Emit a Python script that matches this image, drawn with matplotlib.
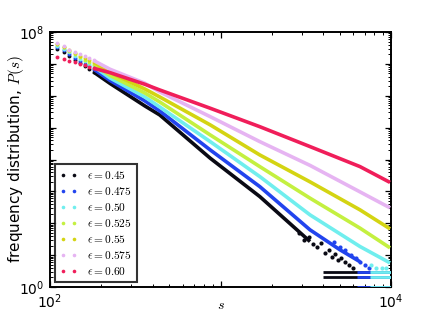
import matplotlib
matplotlib.use("Agg")
import matplotlib.pyplot as plt
from matplotlib.lines import Line2D
from matplotlib.ticker import LogLocator, FixedLocator, FixedFormatter, NullFormatter

plt.rcParams['mathtext.fontset'] = 'cm'
plt.rcParams['font.family'] = ['DejaVu Sans']

# ---------------- data ----------------
s_vals = [110, 120, 130, 140, 150, 160, 170, 180, 225, 360, 440, 870, 1700, 3350, 6580, 9870]

labels = [r'$\epsilon=0.45$', r'$\epsilon=0.475$', r'$\epsilon=0.50$', r'$\epsilon=0.525$',
          r'$\epsilon=0.55$', r'$\epsilon=0.575$', r'$\epsilon=0.60$']
colors = ['#0a0a14', '#2244ee', '#70eeee', '#c4f040', '#d4d412', '#e6b4f2', '#f01e5a']

P_045 = [2.93e7, 2.28e7, 1.77e7, 1.33e7, 1.03e7, 8.29e6, 6.67e6, 5.57e6, 2.43e6, 4.79e5, 2.50e5, 1.10e4, 687, 26.7]
s_045 = s_vals[:14]
P_0475 = [3.31e7, 2.63e7, 2.04e7, 1.53e7, 1.23e7, 1.01e7, 8.29e6, 6.92e6, 3.02e6, 6.88e5, 3.34e5, 2.00e4, 1.41e3, 62.1, 14.7, 6.2]
s_0475 = s_vals[:14] + [5020, 6580]
P_050 = [3.64e7, 2.93e7, 2.28e7, 1.77e7, 1.43e7, 1.19e7, 9.93e6, 8.29e6, 3.61e6, 9.16e5, 4.45e5, 3.64e4, 2.91e3, 183, 18.6, 5.7]
P_0525 = [4.06e7, 3.27e7, 2.54e7, 1.97e7, 1.65e7, 1.37e7, 1.15e7, 9.9e6, 4.33e6, 1.22e6, 6.40e5, 5.90e4, 5.98e3, 612, 70.2, 16.9]
P_055 = [4.21e7, 3.39e7, 2.73e7, 2.20e7, 1.83e7, 1.55e7, 1.32e7, 1.15e7, 5.37e6, 1.63e6, 9.17e5, 1.22e5, 1.39e4, 1.99e3, 263, 66.7]
P_0575 = [4.36e7, 3.51e7, 2.82e7, 2.36e7, 1.97e7, 1.71e7, 1.48e7, 1.28e7, 6.78e6, 2.47e6, 1.32e6, 2.21e5, 3.64e4, 6.53e3, 964, 304]
P_060 = [1.68e7, 1.39e7, 1.23e7, 1.12e7, 1.01e7, 9.0e6, 8.1e6, 7.3e6, 5.3e6, 2.29e6, 1.52e6, 4.06e5, 1.07e5, 2.54e4, 5.98e3, 1.91e3]

# noisy tail points near the count floor
tail_s_045 = [2900, 3100, 3300, 3500, 3700, 3900, 4100, 4300, 4500, 4700, 4900, 5100, 5400, 5700, 6000]
tail_P_045 = [50, 30, 38, 22, 18, 24, 12, 15, 9, 11, 7, 8, 6, 5, 4]
tail_s_0475 = [4600, 5000, 5400, 5800, 6200, 6600, 7000, 7400]
tail_P_0475 = [25, 18, 14, 10, 8, 6, 5, 4]
tail_s_050 = [7600, 8200, 8800, 9400]
tail_P_050 = [5, 4, 4, 4]

# integer-count floor levels and where each series reaches them
floor_levels = [1, 2, 3]
floor_start = [4000, 6300, 7500]   # eps = 0.45, 0.475, 0.50
floor_end = 10000

series_s = [s_045, s_0475, s_vals, s_vals, s_vals, s_vals, s_vals]
series_P = [P_045, P_0475, P_050, P_0525, P_055, P_0575, P_060]
tails = {0: (tail_s_045, tail_P_045), 1: (tail_s_0475, tail_P_0475), 2: (tail_s_050, tail_P_050)}

# ---------------- figure ----------------
fig = plt.figure(figsize=(4.36, 3.2), dpi=100)
ax = fig.add_axes([50/436, 1-287/320, 341/436, 255/320])

n_dots = 8
for i, (ss, pp) in enumerate(zip(series_s, series_P)):
    c = colors[i]
    ax.plot(ss[:n_dots], pp[:n_dots], 'o', ms=2.8, mew=0, color=c, zorder=2+i)
    ax.plot(ss[n_dots-1:], pp[n_dots-1:], '-', lw=2.6, color=c, zorder=2+i,
            solid_capstyle='butt')
    if i in tails:
        ts, tp = tails[i]
        ax.plot(ts, tp, 'o', ms=3.0, mew=0, color=c, zorder=2+i)
    if i < len(floor_start):
        ax.hlines(floor_levels, floor_start[i], floor_end, colors=c, lw=2.0, zorder=2+i)

ax.set_xscale('log')
ax.set_yscale('log')
ax.set_xlim(1e2, 1e4)
ax.set_ylim(1e0, 1e8)

ax.xaxis.set_major_locator(FixedLocator([1e2, 1e3, 1e4]))
ax.xaxis.set_major_formatter(FixedFormatter([r'$\mathdefault{10^{2}}$', '', r'$\mathdefault{10^{4}}$']))
ax.yaxis.set_major_locator(FixedLocator([10.0**k for k in range(0, 9)]))
ax.yaxis.set_major_formatter(FixedFormatter([r'$\mathdefault{10^{0}}$'] + ['']*7 + [r'$\mathdefault{10^{8}}$']))
ax.xaxis.set_minor_locator(LogLocator(base=10, subs=range(2, 10), numticks=20))
ax.yaxis.set_minor_locator(LogLocator(base=10, subs=range(2, 10), numticks=20))
ax.xaxis.set_minor_formatter(NullFormatter())
ax.yaxis.set_minor_formatter(NullFormatter())

ax.tick_params(which='both', direction='in', top=True, right=True, labelsize=10)
ax.tick_params(which='major', length=4.5, width=0.9, pad=4)
ax.tick_params(which='minor', length=2.2, width=0.7)
for sp in ax.spines.values():
    sp.set_linewidth(1.4)

ax.set_xlabel(r'$s$', fontsize=10)
ax.xaxis.set_label_coords(0.5, -0.045)
ax.set_ylabel(r'frequency distribution, $P(s)$', fontsize=11)
ax.yaxis.set_label_coords(-0.07, 0.5)

handles = [Line2D([], [], ls='none', marker='o', ms=2.6, mew=0, color=c) for c in colors]
leg = ax.legend(handles, labels, loc='lower left', numpoints=2, fontsize=8.2,
                frameon=True, fancybox=False, borderaxespad=0.4, handlelength=1.6,
                labelspacing=0.36, handletextpad=0.8, borderpad=0.45)
leg.get_frame().set_edgecolor('black')
leg.get_frame().set_linewidth(1.5)
leg.set_zorder(20)

fig.savefig('out.png', dpi=100)
